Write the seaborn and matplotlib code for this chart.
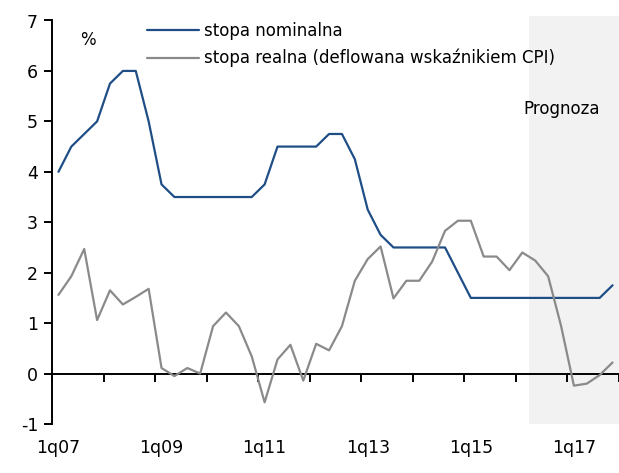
import pandas as pd
import seaborn as sns
import matplotlib.pyplot as plt
from matplotlib.ticker import FixedLocator

# quarterly data 1q07 - 4q17
quarters = [f"{q}q{y:02d}" for y in range(7, 18) for q in range(1, 5)]

stopa_nominalna = [
    4.0, 4.5, 4.75, 5.0, 5.75, 6.0, 6.0, 5.0,
    3.75, 3.5, 3.5, 3.5, 3.5, 3.5, 3.5, 3.5,
    3.75, 4.5, 4.5, 4.5, 4.5, 4.75, 4.75, 4.25,
    3.25, 2.75, 2.5, 2.5, 2.5, 2.5, 2.5, 2.0,
    1.5, 1.5, 1.5, 1.5, 1.5, 1.5, 1.5, 1.5,
    1.5, 1.5, 1.5, 1.75,
]
stopa_realna = [
    1.56, 1.93, 2.47, 1.06, 1.65, 1.37, 1.52, 1.68,
    0.11, -0.05, 0.11, 0.0, 0.94, 1.21, 0.94, 0.34,
    -0.57, 0.28, 0.57, -0.14, 0.59, 0.46, 0.94, 1.84,
    2.27, 2.52, 1.49, 1.84, 1.84, 2.22, 2.83, 3.03,
    3.03, 2.32, 2.32, 2.05, 2.40, 2.24, 1.93, 0.95,
    -0.24, -0.20, -0.03, 0.22,
]
labels = ["stopa nominalna", "stopa realna (deflowana wskaźnikiem CPI)"]
forecast_start = "2q16"

df = pd.DataFrame({"q": quarters, labels[0]: stopa_nominalna,
                   labels[1]: stopa_realna})
df["x"] = range(len(df))
long = df.melt(id_vars=["q", "x"], value_vars=labels,
               var_name="seria", value_name="val")

sns.set_style("ticks")
plt.rcParams['font.family'] = ['DejaVu Sans']
plt.rcParams['font.size'] = 12.5
plt.rcParams['axes.unicode_minus'] = False
plt.rcParams['text.color'] = 'black'
plt.rcParams['xtick.color'] = 'black'
plt.rcParams['ytick.color'] = 'black'

fig = plt.figure(figsize=(6.19, 4.73), dpi=100)
ax = fig.add_axes([52 / 619, 1 - 424 / 473, 567 / 619, 403.5 / 473])

n = len(quarters)
fc = quarters.index(forecast_start)
# forecast shading
ax.axvspan(fc - 0.5, n - 0.5, ymin=0, ymax=1.01, color="#f2f2f2",
           lw=0, clip_on=False, zorder=0)

sns.lineplot(data=long, x="x", y="val", hue="seria",
             palette=["#1f4e87", "#8a8a8a"], linewidth=1.6, ax=ax,
             legend=True, zorder=3)

ax.set_xlim(-0.5, n - 0.5)
ax.set_ylim(-1, 7)
ax.set_yticks(range(-1, 8))
ax.set_xlabel("")
ax.set_ylabel("")

# x axis drawn at zero, labels at the bottom
ax.spines["bottom"].set_position(("data", 0))
ax.spines["right"].set_visible(False)
ax.spines["top"].set_visible(False)
for s in ["left", "bottom"]:
    ax.spines[s].set_linewidth(1.4)
    ax.spines[s].set_color("black")
ax.set_xticks(range(0, n, 8))
ax.set_xticklabels(quarters[::8])
ax.xaxis.set_minor_locator(FixedLocator([i - 0.5 for i in range(0, n + 1, 4)]))
ax.tick_params(axis="x", which="major", length=0, pad=47, labelsize=12.5)
ax.tick_params(axis="x", which="minor", length=6, width=1.4, direction="out")
ax.tick_params(axis="y", length=6, width=1.4, labelsize=12.5, pad=4)

leg = ax.legend(loc="upper left", bbox_to_anchor=(0.1675, 0.997),
                frameon=False, borderpad=0, borderaxespad=0,
                handlelength=3.1, handletextpad=0.35, labelspacing=0.55,
                fontsize=12)
for h in leg.get_lines():
    h.set_linewidth(1.6)

ax.text(0.063, 0.952, "%", transform=ax.transAxes, ha="center",
        va="center", fontsize=12)
ax.text(fc - 0.95, 5.25, "Prognoza", ha="left", va="center", fontsize=12)

plt.savefig("out.png", dpi=100)
plt.close()
